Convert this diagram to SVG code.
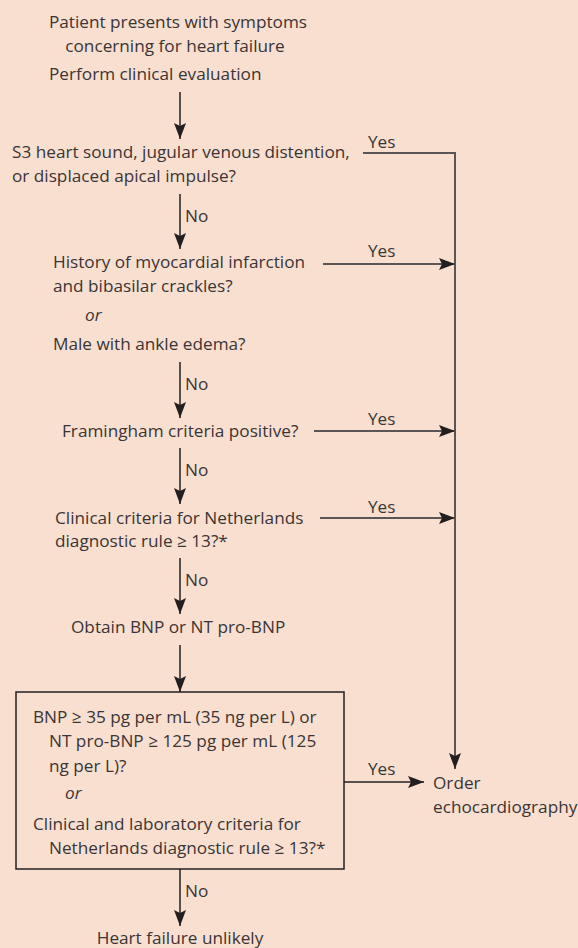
<svg xmlns="http://www.w3.org/2000/svg" width="578" height="948" viewBox="0 0 578 948">
<defs>
<marker id="ah" markerUnits="userSpaceOnUse" markerWidth="18" markerHeight="14" refX="16" refY="6" orient="auto">
<path d="M0,0 L16,6 L0,12 L3,6 Z" fill="#231f20"/>
</marker>
<style>
text{font-family:"Open Sans","Noto Sans","Liberation Sans",sans-serif;font-size:17.2px;fill:#3a3536}
.i{font-style:italic}
.c{stroke:#231f20;stroke-width:1.5;fill:none}
.g{stroke:#5a5556;stroke-width:2;fill:none}
</style>
</defs>
<rect x="0" y="0" width="578" height="948" fill="#f9dfd0"/>
<g id="start">
<text x="178" y="28" text-anchor="middle">Patient presents with symptoms</text>
<text x="175" y="52" text-anchor="middle">concerning for heart failure</text>
<text x="49" y="80">Perform clinical evaluation</text>
</g>
<g id="q1">
<text x="12" y="158">S3 heart sound, jugular venous distention,</text>
<text x="12" y="182">or displaced apical impulse?</text>
</g>
<g id="q2">
<text x="53" y="268">History of myocardial infarction</text>
<text x="53" y="292">and bibasilar crackles?</text>
<text x="85" y="321" class="i">or</text>
<text x="53" y="350">Male with ankle edema?</text>
</g>
<g id="q3">
<text x="62" y="437">Framingham criteria positive?</text>
</g>
<g id="q4">
<text x="55" y="524">Clinical criteria for Netherlands</text>
<text x="55" y="547">diagnostic rule ≥ 13?*</text>
</g>
<g id="obtain">
<text x="71" y="633">Obtain BNP or NT pro-BNP</text>
</g>
<g id="q5">
<rect x="16" y="692" width="328" height="177" fill="none" stroke="#231f20" stroke-width="1.5"/>
<text x="33" y="723">BNP ≥ 35 pg per mL (35 ng per L) or</text>
<text x="49" y="747">NT pro-BNP ≥ 125 pg per mL (125</text>
<text x="49" y="772">ng per L)?</text>
<text x="65" y="799" class="i">or</text>
<text x="33" y="830">Clinical and laboratory criteria for</text>
<text x="49" y="854">Netherlands diagnostic rule ≥ 13?*</text>
</g>
<g id="echo">
<text x="433" y="789">Order</text>
<text x="433" y="813">echocardiography</text>
</g>
<g id="unlikely">
<text x="180" y="944" text-anchor="middle">Heart failure unlikely</text>
</g>
<g id="connectors">
<path class="c" d="M180,92 V139" marker-end="url(#ah)"/>
<path class="c" d="M180,194 V249" marker-end="url(#ah)"/>
<path class="c" d="M180,362 V418" marker-end="url(#ah)"/>
<path class="c" d="M180,448 V504" marker-end="url(#ah)"/>
<path class="c" d="M180,558 V614" marker-end="url(#ah)"/>
<path class="c" d="M180,645 V692" marker-end="url(#ah)"/>
<path class="c" d="M180,869 V926" marker-end="url(#ah)"/>
<path class="g" d="M363,153 H455 V769" marker-end="url(#ah)"/>
<path class="g" d="M323,264 H455" marker-end="url(#ah)"/>
<path class="g" d="M314,431 H455" marker-end="url(#ah)"/>
<path class="g" d="M320,518 H455" marker-end="url(#ah)"/>
<path class="c" d="M344,782 H424" marker-end="url(#ah)"/>
<text x="185" y="222">No</text>
<text x="185" y="390">No</text>
<text x="185" y="476">No</text>
<text x="185" y="586">No</text>
<text x="185" y="897">No</text>
<text x="368" y="148">Yes</text>
<text x="368" y="257">Yes</text>
<text x="368" y="425">Yes</text>
<text x="368" y="513">Yes</text>
<text x="368" y="775">Yes</text>
</g>
</svg>
